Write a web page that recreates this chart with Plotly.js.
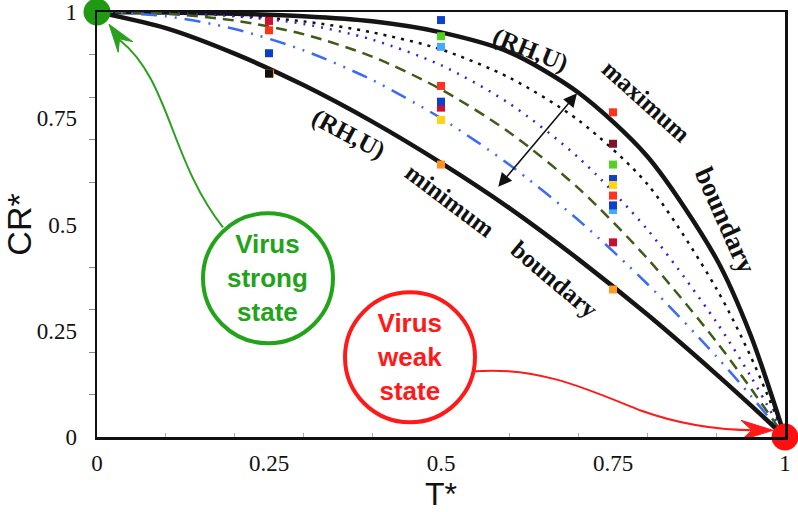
<!DOCTYPE html>
<html>
<head>
<meta charset="utf-8">
<script src="https://cdn.plot.ly/plotly-3.0.1.min.js"></script>
<style>html,body{margin:0;padding:0;background:#fff;}#chart{width:798px;height:512px;}</style>
</head>
<body>
<div id="chart"></div>
<script>
// T* sample positions
const tStar = [0, 0.1, 0.2, 0.3, 0.4, 0.5, 0.6, 0.7, 0.8, 0.9, 0.95, 1];
// CR* values for each curve
const crMaxBoundary = [1, 0.999, 0.996, 0.99, 0.978, 0.952, 0.905, 0.81, 0.66, 0.42, 0.24, 0];
const crBlackDotted = [1, 0.998, 0.992, 0.978, 0.952, 0.912, 0.845, 0.745, 0.595, 0.35, 0.19, 0];
const crPurpleDotted = [1, 0.998, 0.99, 0.972, 0.935, 0.875, 0.784, 0.657, 0.488, 0.271, 0.143, 0];
const crOliveDashed = [1, 0.996, 0.98, 0.948, 0.895, 0.818, 0.716, 0.585, 0.42, 0.225, 0.115, 0];
const crBlueDashDot = [1, 0.99, 0.96, 0.91, 0.84, 0.75, 0.64, 0.51, 0.36, 0.19, 0.0975, 0];
const crMinBoundary = [1, 0.962, 0.902, 0.828, 0.742, 0.645, 0.538, 0.418, 0.288, 0.148, 0.075, 0];

// measured points (squares)
const ptT = [0.25, 0.25, 0.25, 0.25, 0.2515, 0.25,
             0.5, 0.5, 0.5, 0.5, 0.5, 0.5, 0.5, 0.5, 0.5,
             0.75, 0.75, 0.75, 0.75, 0.75, 0.75, 0.75, 0.75, 0.75, 0.75];
const ptCR = [1.005, 0.979, 0.957, 0.903, 0.855, 0.855,
              1.005, 0.981, 0.943, 0.918, 0.826, 0.775, 0.789, 0.746, 0.641,
              0.764, 0.69, 0.641, 0.607, 0.593, 0.568, 0.534, 0.545, 0.458, 0.347];
const ptColors = ['#3fa2ff', '#d0102c', '#ff3414', '#0a3ec8', '#ff9a1a', '#111111',
                  '#ff2420', '#1040d0', '#52d020', '#42aaff', '#ff3222', '#d01030', '#1040c4', '#ffd414', '#ff9222',
                  '#ff3222', '#80122a', '#56d022', '#1040c8', '#ffd414', '#ff3222', '#42aaff', '#1040c8', '#c81030', '#ff9a22'];

// state end points
const stateT = [0, 1];
const stateCR = [1, 0];
const stateColors = ['#1f9a12', '#ff1010'];

const traces = [
  {x: tStar, y: crMaxBoundary, mode: 'lines', line: {color: '#151515', width: 4.5, shape: 'spline', smoothing: 0.8}, hoverinfo: 'skip'},
  {x: tStar, y: crBlackDotted, mode: 'lines', line: {color: '#111', width: 2.5, dash: '3px,6px', shape: 'spline', smoothing: 0.8}, hoverinfo: 'skip'},
  {x: tStar, y: crPurpleDotted, mode: 'lines', line: {color: '#3c1ed2', width: 2.5, dash: '2px,7px', shape: 'spline', smoothing: 0.8}, hoverinfo: 'skip'},
  {x: tStar, y: crOliveDashed, mode: 'lines', line: {color: '#3e5c18', width: 2.5, dash: '11px,7px', shape: 'spline', smoothing: 0.8}, hoverinfo: 'skip'},
  {x: tStar, y: crBlueDashDot, mode: 'lines', line: {color: '#3c6cf2', width: 2.5, dash: '16px,8px,2px,8px,2px,8px', shape: 'spline', smoothing: 0.8}, hoverinfo: 'skip'},
  {x: tStar, y: crMinBoundary, mode: 'lines', line: {color: '#151515', width: 4.5, shape: 'spline', smoothing: 0.8}, hoverinfo: 'skip'},
  {x: ptT, y: ptCR, mode: 'markers', cliponaxis: false, marker: {symbol: 'square', size: 8, color: ptColors, line: {width: 0}}, hoverinfo: 'skip'},
  {x: stateT, y: stateCR, mode: 'markers', cliponaxis: false, marker: {symbol: 'circle', size: 27, color: stateColors, line: {width: 0}}, hoverinfo: 'skip'}
];

const serifBold = {family: 'Liberation Serif, Times New Roman, serif', size: 25, color: '#111'};
const labelAnn = (text, x, y, ang, size) => ({text: '<b>' + text + '</b>', x: x, y: y, xref: 'x', yref: 'y', showarrow: false, textangle: ang,
  font: Object.assign({}, serifBold, size ? {size: size} : {})});

const layout = {
  width: 798, height: 512,
  margin: {l: 97, r: 13, t: 12, b: 75},
  paper_bgcolor: '#fff', plot_bgcolor: '#fff',
  showlegend: false,
  xaxis: {
    range: [0, 1], tickmode: 'linear', tick0: 0, dtick: 0.25,
    showgrid: false, zeroline: false,
    showline: true, mirror: true, linecolor: '#111', linewidth: 2.5,
    ticks: '', ticklabelstandoff: 4, ticklabeloverflow: 'allow',
    tickfont: {family: 'Liberation Serif, Times New Roman, serif', size: 23, color: '#111'},
    minor: {tickmode: 'linear', tick0: 0, dtick: 0.1, ticks: 'inside', ticklen: 4, tickcolor: '#aaaaaa', tickwidth: 1, showgrid: false},
    title: {text: 'T*', font: {family: 'Liberation Sans, Arial, sans-serif', size: 32, color: '#111'}, standoff: 6}
  },
  yaxis: {
    range: [0, 1], tickmode: 'linear', tick0: 0, dtick: 0.25,
    showgrid: false, zeroline: false,
    showline: true, mirror: true, linecolor: '#111', linewidth: 2.5,
    ticks: '', ticklabelstandoff: 13, ticklabeloverflow: 'allow',
    tickfont: {family: 'Liberation Serif, Times New Roman, serif', size: 23, color: '#111'},
    minor: {tickmode: 'linear', tick0: 0, dtick: 0.1, ticks: 'outside', ticklen: 6, tickcolor: '#888888', tickwidth: 1, showgrid: false},
    title: {text: 'CR*', font: {family: 'Liberation Sans, Arial, sans-serif', size: 34, color: '#111'}, standoff: 6}
  },
  shapes: [
    {type: 'circle', xref: 'x', yref: 'y', x0: 0.1541, x1: 0.3430, y0: 0.2205, y1: 0.5264, line: {color: '#22a31a', width: 4}},
    {type: 'circle', xref: 'x', yref: 'y', x0: 0.3605, x1: 0.5494, y0: 0.0346, y1: 0.3405, line: {color: '#ff1a1a', width: 4}},
    {type: 'path', xref: 'x', yref: 'y', path: 'M0.1831,0.4934 C0.1061,0.6511 0.1061,0.8393 0.0334,0.9334', line: {color: '#2aa01e', width: 2}},
    {type: 'path', xref: 'x', yref: 'y', path: 'M0.01744,0.9711 L0.0520,0.9301 L0.0328,0.9367 L0.0308,0.9052 Z', fillcolor: '#2aa01e', line: {color: '#2aa01e', width: 1}},
    {type: 'path', xref: 'x', yref: 'y', path: 'M0.5494,0.1546 C0.6439,0.1664 0.7166,0.1099 0.7892,0.0628 C0.8619,0.0205 0.9201,0.0158 0.9564,0.0158', line: {color: '#ff1a1a', width: 2}},
    {type: 'path', xref: 'x', yref: 'y', path: 'M0.9826,0.0158 L0.9360,0.0393 L0.9520,0.0158 L0.9360,-0.0078 Z', fillcolor: '#ff1a1a', line: {color: '#ff1a1a', width: 1}}
  ],
  annotations: [
    labelAnn('(RH,U)', 0.6294, 0.9100, 22),
    labelAnn('maximum', 0.7990, 0.7900, 42),
    labelAnn('boundary', 0.9130, 0.5100, 66, 27),
    labelAnn('(RH,U)', 0.3648, 0.7120, 28),
    labelAnn('minimum', 0.5131, 0.5569, 37),
    labelAnn('boundary', 0.6650, 0.3700, 40),
    {text: '', x: 0.6977, y: 0.8087, ax: 0.5814, ay: 0.5852, xref: 'x', yref: 'y', axref: 'x', ayref: 'y',
     showarrow: true, arrowhead: 2, startarrowhead: 2, arrowside: 'end+start', arrowsize: 1.8, startarrowsize: 1.8, arrowwidth: 1.5, arrowcolor: '#111'},
    {text: '<b>Virus<br>strong<br>state</b>', x: 0.2485, y: 0.3735, xref: 'x', yref: 'y', showarrow: false,
     font: {family: 'Liberation Sans, Arial, sans-serif', size: 26, color: '#22a31a'}},
    {text: '<b>Virus<br>weak<br>state</b>', x: 0.4549, y: 0.1875, xref: 'x', yref: 'y', showarrow: false,
     font: {family: 'Liberation Sans, Arial, sans-serif', size: 26, color: '#ff1a1a'}}
  ]
};

Plotly.newPlot('chart', traces, layout, {displayModeBar: false, staticPlot: true});
</script>
</body>
</html>
